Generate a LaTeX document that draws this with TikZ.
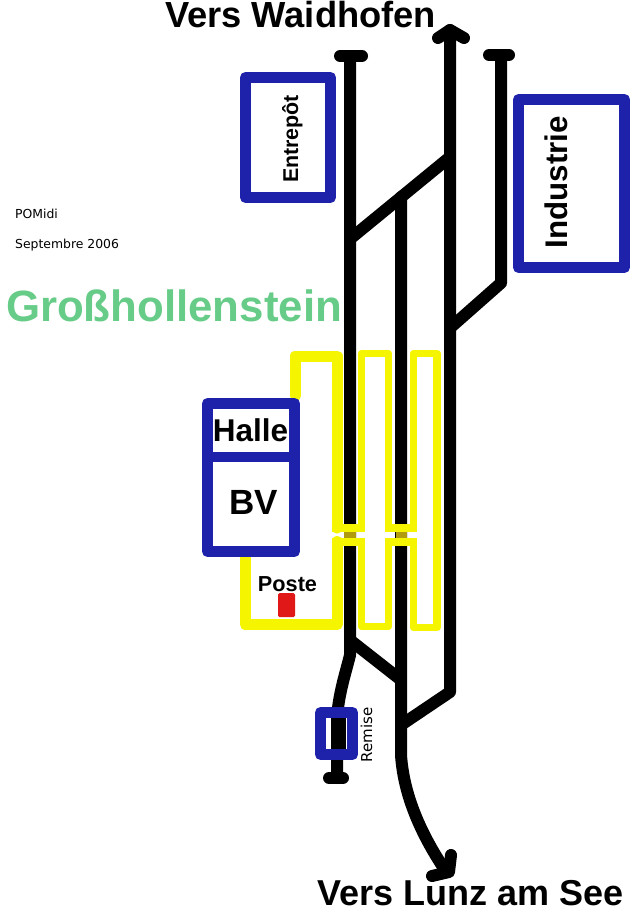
\documentclass[tikz,border=0pt]{standalone}
\usepackage{fontspec}
\setmainfont{Liberation Sans}
\newfontfamily\smallfont{DejaVu Sans}
\definecolor{blu}{HTML}{1E22AA}
\definecolor{yel}{HTML}{F5F500}
\definecolor{olv}{HTML}{B09A10}
\definecolor{grn}{HTML}{66CC88}
\definecolor{rd}{HTML}{E01818}
\tikzset{
  track/.style={draw=black,line width=12pt,line cap=round,line join=round},
  buffer/.style={draw=black,line width=12pt,line cap=round},
  yelthick/.style={draw=yel,line width=11pt,line cap=round,line join=round},
  yelthin/.style={draw=yel,line width=7.5pt,line cap=butt,line join=round},
  bar/.style={draw=yel,line width=8pt},
  building/.style={draw=blu,line width=11pt,line join=round,fill=white},
  lbl/.style={font=\bfseries,inner sep=0pt,anchor=base,text=black},
}
\begin{document}
\begin{tikzpicture}[x=1pt,y=-1pt]
\useasboundingbox[fill=white] (0,0) rectangle (640,916);
% yellow platforms
\draw[yelthick] (295,396) -- (295,356) -- (337,356) -- (337,528);
\draw[yelthick] (245,558) -- (245,624.5) -- (337,624.5) -- (337,541.5);
\draw[yelthin] (361.5,528) -- (361.5,353.5) -- (388.5,353.5) -- (388.5,528);
\draw[yelthin] (361.5,541.5) -- (361.5,626.5) -- (388.5,626.5) -- (388.5,541.5);
\draw[yelthin] (413.5,528) -- (413.5,353.5) -- (437,353.5) -- (437,627.5) -- (413.5,627.5) -- (413.5,541.5);
% tracks
\draw[track] (350,56) -- (350,655) .. controls (346,672) and (338,695) .. (337,720) -- (337,778);
\draw[buffer] (340,56) -- (362,56);
\draw[buffer] (329,778) -- (343,778);
\draw[track] (401,197) -- (401,755) .. controls (404,800) and (425,840) .. (445,870);
\draw[track] (450,30) -- (450,692) -- (401,725);
\draw[track,line cap=butt] (350,239) -- (450,157);
\draw[track] (501,56) -- (501,283) -- (450,328);
\draw[track,line cap=butt] (350,640) -- (401,680);
\draw[buffer] (489,55) -- (509,55);
\draw[buffer,line join=round] (438,38) -- (450,30) -- (464,38);
\draw[buffer,line join=round] (451,855) -- (449,872) -- (432,876);
% crossings
\fill[olv] (344,532) rectangle (356,538);
\fill[olv] (395.5,532) rectangle (406.5,538);
\draw[bar] (332,528) -- (365,528);
\draw[bar] (385,528) -- (417,528);
\draw[bar] (332,541.5) -- (365,541.5);
\draw[bar] (385,541.5) -- (417,541.5);
% buildings
\draw[building] (245.5,77.5) rectangle (330.5,197.5);
\draw[building] (518.5,99.5) rectangle (624.5,267.5);
\draw[building] (207.5,403.5) rectangle (294.5,551.5);
\draw[blu,line width=10.5pt] (207.5,457) -- (294.5,457);
\draw[building] (320.5,712.5) rectangle (352.5,754.5);
\fill[black] (331,718) rectangle (346,749);
\fill[rd,rounded corners=1.5pt] (278,593) rectangle (295,617);
% labels
\node[lbl,font=\bfseries\fontsize{36.3}{36.3}\selectfont] (top) at (300.5,27) {Vers Waidhofen};
\node[lbl,font=\bfseries\fontsize{36}{36}\selectfont] (bot) at (470.5,905) {Vers Lunz am See};
\node[lbl,font=\bfseries\fontsize{43.8}{43.8}\selectfont,text=grn] (title) at (174,321) {Großhollenstein};
\node[lbl,font=\bfseries\fontsize{31.5}{31.5}\selectfont] (halle) at (250.5,441) {Halle};
\node[lbl,font=\bfseries\fontsize{35}{35}\selectfont] (bv) at (253.5,514) {BV};
\node[lbl,font=\bfseries\fontsize{21.7}{21.7}\selectfont] (poste) at (287.5,591) {Poste};
\node[lbl,font=\bfseries\fontsize{21.4}{21.4}\selectfont,rotate=90] (ent) at (298,139) {Entrepôt};
\node[lbl,font=\bfseries\fontsize{31.3}{31.3}\selectfont,rotate=90] (ind) at (567,182) {Industrie};
\node[lbl,font=\smallfont\fontsize{15}{15}\selectfont,rotate=90] (rem) at (372,735) {Remise};
\node[lbl,font=\smallfont\fontsize{12.4}{12.4}\selectfont,anchor=base west] (pom) at (15,218) {POMidi};
\node[lbl,font=\smallfont\fontsize{12.4}{12.4}\selectfont,anchor=base west] (sep) at (15,248) {Septembre 2006};
\end{tikzpicture}
\end{document}
